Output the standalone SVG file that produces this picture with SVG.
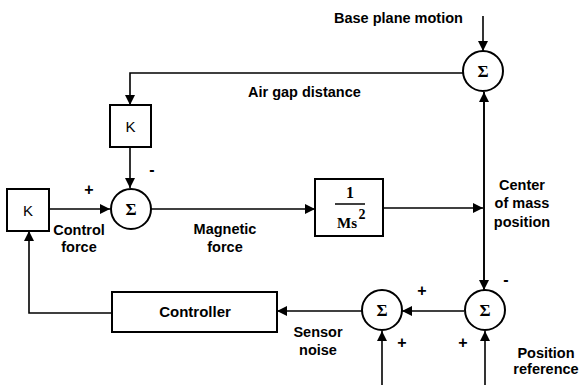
<svg xmlns="http://www.w3.org/2000/svg" width="579" height="385" viewBox="0 0 579 385">
<defs>
<style>
.bx{fill:#fff;stroke:#000;stroke-width:2}
.sm{fill:#fff;stroke:#000;stroke-width:2}
.ln{fill:none;stroke:#000;stroke-width:1.6}
.t{font-family:"Liberation Sans",Arial,sans-serif;font-weight:bold;font-size:14.5px;fill:#000}
.p{font-family:"Liberation Sans",Arial,sans-serif;font-weight:bold;font-size:16px;fill:#000;text-anchor:middle}
.sg{font-family:"Liberation Serif","Times New Roman",serif;font-weight:bold;font-size:17px;fill:#000;text-anchor:middle}
.k{font-family:"Liberation Sans",Arial,sans-serif;font-size:15px;fill:#000;text-anchor:middle}
.m{text-anchor:middle}
</style>
<marker id="ar" viewBox="0 0 10 10" refX="10" refY="5" markerWidth="10" markerHeight="10" markerUnits="userSpaceOnUse" orient="auto">
<path d="M0,0 L10,5 L0,10 Z" fill="#000"/>
</marker>
</defs>
<rect width="579" height="385" fill="#fff"/>
<g id="connectors">
<path class="ln" d="M483,16 V51" marker-end="url(#ar)"/>
<path class="ln" d="M463,73 H130 V105" marker-end="url(#ar)"/>
<path class="ln" d="M130,147 V188" marker-end="url(#ar)"/>
<path class="ln" d="M49,209 H110" marker-end="url(#ar)"/>
<path class="ln" d="M151,209 H315" marker-end="url(#ar)"/>
<path class="ln" d="M383,208 H483" marker-end="url(#ar)"/>
<path class="ln" d="M484,290 V92" marker-end="url(#ar)"/>
<path class="ln" d="M484,92 V290" marker-end="url(#ar)"/>
<path class="ln" d="M464,311 H402" marker-end="url(#ar)"/>
<path class="ln" d="M362,311 H277" marker-end="url(#ar)"/>
<path class="ln" d="M112,313 H29 V231" marker-end="url(#ar)"/>
<path class="ln" d="M382,385 V331" marker-end="url(#ar)"/>
<path class="ln" d="M485,385 V331" marker-end="url(#ar)"/>
</g>
<g id="sum_top"><circle class="sm" cx="483" cy="71" r="20"/><text class="sg" x="483" y="77">Σ</text></g>
<g id="k_top"><rect class="bx" x="110" y="105" width="41" height="42"/><text class="k" x="130.5" y="131.5">K</text></g>
<g id="sum_mid"><circle class="sm" cx="131" cy="209" r="20"/><text class="sg" x="131" y="215">Σ</text></g>
<g id="k_left"><rect class="bx" x="7" y="189" width="42" height="42"/><text class="k" x="28" y="215.5">K</text></g>
<g id="plant"><rect class="bx" x="315" y="179" width="68" height="57"/>
<text class="sg" x="350" y="198" style="font-size:16px">1</text>
<line x1="335" y1="204" x2="365" y2="204" stroke="#000" stroke-width="1.5"/>
<text class="sg" x="347" y="228" style="font-size:15px">Ms</text>
<text class="sg" x="362" y="219" style="font-size:14px">2</text></g>
<g id="sum_right"><circle class="sm" cx="485" cy="310" r="20"/><text class="sg" x="485" y="316">Σ</text></g>
<g id="sum_left"><circle class="sm" cx="382" cy="310" r="20"/><text class="sg" x="382" y="316">Σ</text></g>
<g id="controller"><rect class="bx" x="112" y="292" width="165" height="40"/><text class="t m" x="195" y="317" style="font-size:15px">Controller</text></g>
<g id="labels">
<text class="t" x="334" y="23">Base plane motion</text>
<text class="t" x="248" y="97">Air gap distance</text>
<text class="t m" x="79" y="235">Control</text>
<text class="t m" x="79" y="252">force</text>
<text class="t m" x="225" y="234">Magnetic</text>
<text class="t m" x="225" y="252">force</text>
<text class="t m" x="522" y="190">Center</text>
<text class="t m" x="522" y="208">of mass</text>
<text class="t m" x="522" y="227">position</text>
<text class="t m" x="318" y="337">Sensor</text>
<text class="t m" x="318" y="355">noise</text>
<text class="t m" x="546" y="358">Position</text>
<text class="t m" x="546" y="374">reference</text>
<text class="p" x="89" y="195">+</text>
<text class="p" x="152" y="175">-</text>
<text class="p" x="506" y="285">-</text>
<text class="p" x="422" y="296">+</text>
<text class="p" x="402" y="348">+</text>
<text class="p" x="463" y="348">+</text>
</g>
</svg>
